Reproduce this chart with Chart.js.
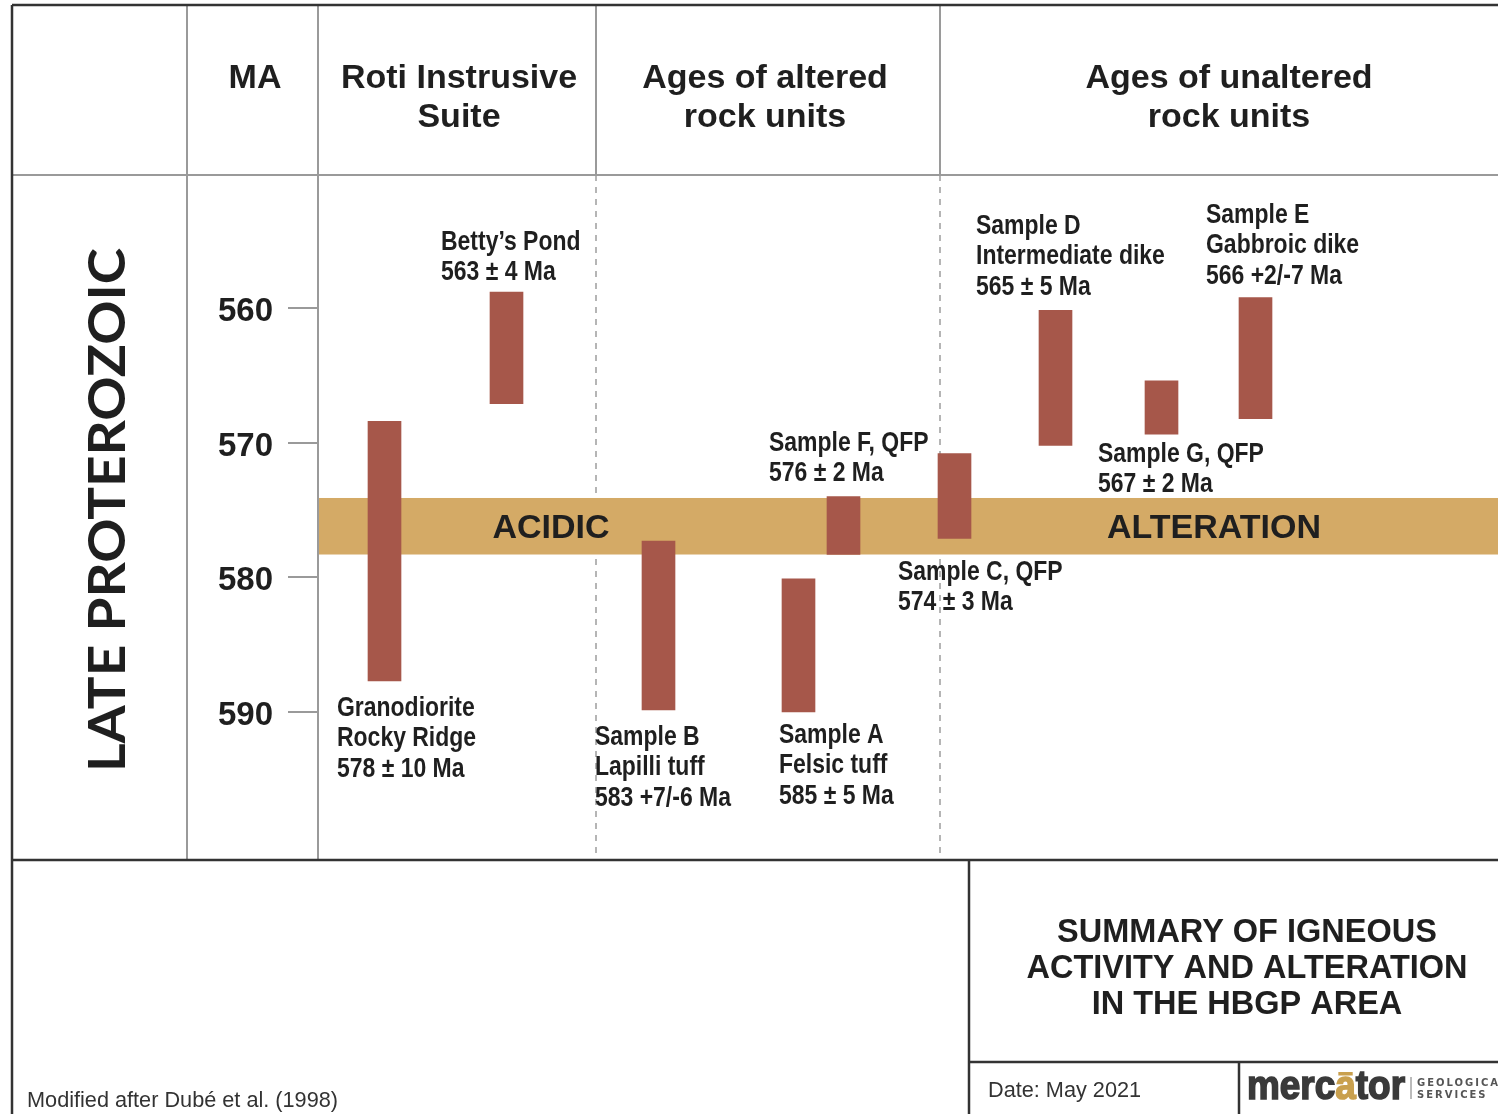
<!DOCTYPE html>
<html>
<head>
<meta charset="utf-8">
<script src="https://cdn.jsdelivr.net/npm/chart.js@4/dist/chart.umd.min.js"></script>
<style>
  html, body { margin: 0; padding: 0; background: #fff; }
  #wrap { width: 1498px; height: 1114px; position: relative; }
</style>
</head>
<body>
<div id="wrap"><canvas id="chart"></canvas></div>
<script>
// samples, left to right
const sampleNames = ['Granodiorite Rocky Ridge', 'Betty’s Pond', 'Sample B', 'Sample A', 'Sample F', 'Sample C', 'Sample D', 'Sample G', 'Sample E']
// column position along the timeline panel (0..1180)
const sampleColumn = [66.5, 188.5, 340.5, 480.5, 525.5, 636.5, 737.5, 843.5, 937.5]
// age range in Ma (young end / old end)
const ageYoung = [568.4, 558.8, 577.3, 580.1, 574.0, 570.8, 560.15, 565.4, 559.2]
const ageOld = [587.7, 567.1, 589.85, 590.0, 578.3, 577.1, 570.2, 569.35, 568.2]
const sampleLabels = [
  ['Granodiorite', 'Rocky Ridge', '578 ± 10 Ma'],
  ['Betty’s Pond', '563 ± 4 Ma'],
  ['Sample B', 'Lapilli tuff', '583 +7/-6 Ma'],
  ['Sample A', 'Felsic tuff', '585 ± 5 Ma'],
  ['Sample F, QFP', '576 ± 2 Ma'],
  ['Sample C, QFP', '574 ± 3 Ma'],
  ['Sample D', 'Intermediate dike', '565 ± 5 Ma'],
  ['Sample G, QFP', '567 ± 2 Ma'],
  ['Sample E', 'Gabbroic dike', '566 +2/-7 Ma'],
]
// acidic alteration event
const alterationYoung = 574.1
const alterationOld = 578.3
const maTicks = [560, 570, 580, 590]

// label anchors (left x, first line y) in page pixels
const labelAnchor = [[337, 708], [441, 242], [595, 737], [779, 735], [769, 443], [898, 572], [976, 226], [1098, 454], [1206, 215]]

const BAR = '#a6574a'
const BAND = '#d4aa66'
const GRID = '#9a9a9a'
const DARK = '#333'
const INK = '#1f1f1f'

function line(ctx, x1, y1, x2, y2, color, w, dash) {
  ctx.save()
  ctx.strokeStyle = color
  ctx.lineWidth = w
  ctx.setLineDash(dash || [])
  ctx.beginPath()
  ctx.moveTo(x1, y1)
  ctx.lineTo(x2, y2)
  ctx.stroke()
  ctx.restore()
}

function centerText(ctx, lines, x, y, step, font) {
  ctx.save()
  ctx.font = font
  ctx.fillStyle = INK
  ctx.textAlign = 'center'
  ctx.textBaseline = 'middle'
  lines.forEach((t, i) => ctx.fillText(t, x, y + i * step))
  ctx.restore()
}

const frame = {
  id: 'frame',
  beforeDraw(chart) {
    const { ctx, chartArea: a, scales: { y } } = chart
    ctx.save()
    ctx.fillStyle = '#fff'
    ctx.fillRect(0, 0, chart.width, chart.height)
    ctx.restore()

    // dashed column separators in the timeline panel
    line(ctx, 596, a.top, 596, a.bottom, '#b5b5b5', 2, [6, 6])
    line(ctx, 940, a.top, 940, a.bottom, '#b5b5b5', 2, [6, 6])

    // alteration band
    const y1 = y.getPixelForValue(alterationYoung)
    const y2 = y.getPixelForValue(alterationOld)
    ctx.fillStyle = BAND
    ctx.fillRect(a.left, y1, a.right - a.left, y2 - y1)
    const ym = (y1 + y2) / 2
    centerText(ctx, ['ACIDIC'], 551, ym + 2, 0, 'bold 34px "Liberation Sans", Arial')
    centerText(ctx, ['ALTERATION'], 1214, ym + 2, 0, 'bold 34px "Liberation Sans", Arial')
  },
  afterDraw(chart) {
    const { ctx, chartArea: a } = chart

    // table lines
    line(ctx, 12, a.top, 1498, a.top, GRID, 2)
    line(ctx, 187, 5, 187, a.bottom, GRID, 2)
    line(ctx, 318, 5, 318, a.bottom, GRID, 2)
    line(ctx, 596, 5, 596, a.top, GRID, 2)
    line(ctx, 940, 5, 940, a.top, GRID, 2)
    line(ctx, 12, 5, 1498, 5, DARK, 2.5)
    line(ctx, 12, 5, 12, 1114, DARK, 2.5)
    line(ctx, 12, a.bottom, 1498, a.bottom, DARK, 2.5)
    line(ctx, 969, a.bottom, 969, 1114, DARK, 2.5)
    line(ctx, 969, 1062, 1498, 1062, DARK, 2.5)
    line(ctx, 1239, 1062, 1239, 1114, DARK, 2.5)

    // headers
    const hf = 'bold 34px "Liberation Sans", Arial'
    centerText(ctx, ['MA'], 255, 79, 0, hf)
    centerText(ctx, ['Roti Instrusive', 'Suite'], 459, 79, 39, hf)
    centerText(ctx, ['Ages of altered', 'rock units'], 765, 79, 39, hf)
    centerText(ctx, ['Ages of unaltered', 'rock units'], 1229, 79, 39, hf)

    // era label
    ctx.save()
    ctx.translate(108, 510)
    ctx.rotate(-Math.PI / 2)
    ctx.font = 'bold 52px Lato, "Liberation Sans"'
    const w = ctx.measureText('LATE PROTEROZOIC').width
    ctx.scale(524 / w, 1)
    ctx.fillStyle = INK
    ctx.textAlign = 'center'
    ctx.textBaseline = 'middle'
    ctx.fillText('LATE PROTEROZOIC', 0, 0)
    ctx.restore()

    // sample labels (condensed look)
    sampleLabels.forEach((lines, i) => {
      const [lx, ly] = labelAnchor[i]
      ctx.save()
      ctx.translate(lx, ly)
      ctx.scale(0.82, 1)
      ctx.font = 'bold 28px "Liberation Sans", Arial'
      ctx.fillStyle = INK
      ctx.textBaseline = 'middle'
      lines.forEach((t, k) => ctx.fillText(t, 0, k * 30.5))
      ctx.restore()
    })

    // title block
    centerText(ctx, ['SUMMARY OF IGNEOUS', 'ACTIVITY AND ALTERATION', 'IN THE HBGP AREA'], 1247, 933, 36, 'bold 32.5px "Liberation Sans", Arial')

    ctx.save()
    ctx.font = '21.7px "Liberation Sans", Arial'
    ctx.fillStyle = DARK
    ctx.textBaseline = 'middle'
    ctx.fillText('Modified after Dubé et al. (1998)', 27, 1101)
    ctx.fillText('Date: May 2021', 988, 1091)
    ctx.restore()

    // logo
    ctx.save()
    ctx.font = 'bold 40px "Liberation Sans"'
    ctx.textBaseline = 'alphabetic'
    const full = ctx.measureText('mercator').width
    const sx = 158 / full
    ctx.translate(1247, 1099)
    ctx.scale(sx, 1)
    const wMerc = ctx.measureText('merc').width
    const wA = ctx.measureText('a').width
    ctx.fillStyle = '#3a3a3a'
    ctx.strokeStyle = '#3a3a3a'
    ctx.lineWidth = 1.6
    ctx.fillText('merc', 0, 0)
    ctx.strokeText('merc', 0, 0)
    ctx.fillStyle = '#c9a04e'
    ctx.strokeStyle = '#c9a04e'
    ctx.fillText('a', wMerc, 0)
    ctx.strokeText('a', wMerc, 0)
    ctx.fillRect(wMerc + wA * 0.15, -27, wA * 0.7, 3.5)
    ctx.fillStyle = '#3a3a3a'
    ctx.strokeStyle = '#3a3a3a'
    ctx.fillText('tor', wMerc + wA, 0)
    ctx.strokeText('tor', wMerc + wA, 0)
    ctx.restore()
    line(ctx, 1411, 1077, 1411, 1099, '#777', 1)
    ctx.save()
    ctx.font = 'bold 10px "DejaVu Sans"'
    ctx.letterSpacing = '2px'
    ctx.fillStyle = '#555'
    ctx.textBaseline = 'middle'
    ctx.fillText('GEOLOGICAL', 1417, 1083)
    ctx.fillText('SERVICES', 1417, 1095)
    ctx.restore()
  }
}

new Chart(document.getElementById('chart'), {
  type: 'bar',
  data: {
    datasets: [
      {
        label: 'Age range (Ma)',
        data: sampleNames.map((n, i) => ({ x: sampleColumn[i], y: [ageYoung[i], ageOld[i]] })),
        backgroundColor: BAR,
        borderWidth: 0,
        barThickness: 33,
      },
    ],
  },
  options: {
    responsive: true,
    maintainAspectRatio: false,
    animation: false,
    layout: { padding: { top: 175, bottom: 254, left: 0, right: 0 } },
    plugins: {
      legend: { display: false },
      tooltip: { enabled: false },
    },
    scales: {
      x: { type: 'linear', min: 0, max: 1180, offset: false, display: false, grid: { offset: false } },
      y: {
        type: 'linear',
        reverse: true,
        min: 550.1,
        max: 601,
        afterFit: (s) => { s.width = 318 },
        afterBuildTicks: (s) => { s.ticks = maTicks.map((v) => ({ value: v })) },
        ticks: {
          padding: 15,
          labelOffset: 4,
          color: INK,
          font: { family: '"Liberation Sans", Arial', weight: 'bold', size: 33 },
        },
        grid: {
          drawOnChartArea: false,
          drawTicks: true,
          tickLength: 30,
          color: GRID,
          lineWidth: 2,
        },
        border: { display: false },
      },
    },
  },
  plugins: [frame],
})
</script>
</body>
</html>
